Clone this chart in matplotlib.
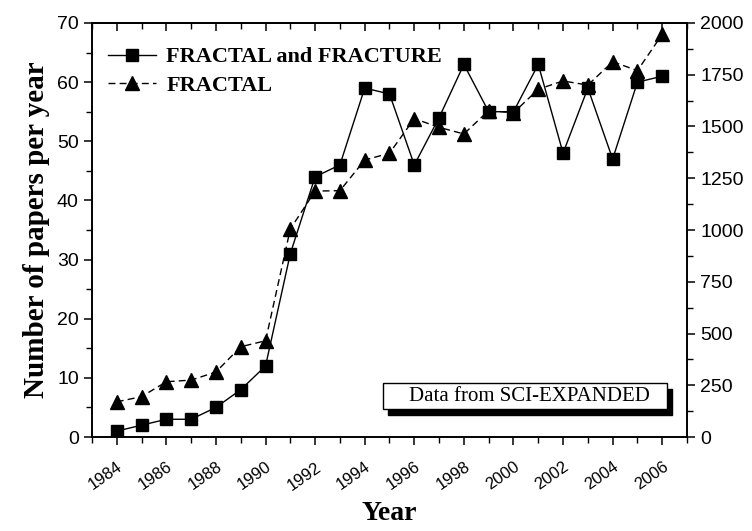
import matplotlib
matplotlib.use("Agg")
import matplotlib.pyplot as plt
from matplotlib.patches import Rectangle
from matplotlib.ticker import MultipleLocator

years = list(range(1984, 2007))

# papers per year, "FRACTAL and FRACTURE" (left axis)
fractal_fracture = [1, 2, 3, 3, 5, 8, 12, 31, 44, 46, 59, 58, 46, 54, 63,
                    55, 55, 63, 48, 59, 47, 60, 61]

# papers per year, "FRACTAL" (right axis)
fractal = [170, 195, 267, 275, 314, 436, 465, 1005, 1188, 1190, 1338, 1371,
           1538, 1496, 1464, 1577, 1566, 1680, 1720, 1700, 1813, 1770, 1945]

serif = ["Liberation Serif", "DejaVu Serif"]
sans = ["Liberation Sans", "DejaVu Sans"]

fig = plt.figure(figsize=(7.52, 5.31), dpi=100)
fig.set_facecolor("white")
ax = fig.add_axes([0.1223, 0.177, 0.7913, 0.7797])
ax2 = ax.twinx()

l1, = ax.plot(years, fractal_fracture, color="black", lw=1.0, marker="s",
              markersize=8, label="FRACTAL and FRACTURE")
l2, = ax2.plot(years, fractal, color="black", lw=1.0, ls=(0, (5, 3)),
               marker="^", markersize=9.5, label="FRACTAL")

ax.set_xlim(1983, 2007)
ax.set_ylim(0, 70)
ax2.set_ylim(0, 2000)

ax.xaxis.set_major_locator(MultipleLocator(2))
ax.xaxis.set_minor_locator(MultipleLocator(1))
ax.yaxis.set_major_locator(MultipleLocator(10))
ax.yaxis.set_minor_locator(MultipleLocator(5))
ax2.yaxis.set_major_locator(MultipleLocator(250))
ax2.yaxis.set_minor_locator(MultipleLocator(125))

ax.tick_params(axis="x", which="both", direction="out", pad=10)
ax.tick_params(axis="x", which="major", length=6, width=1.1)
ax.tick_params(axis="x", which="minor", length=4, width=1.0)
ax.tick_params(axis="y", which="major", length=6, width=1.1)
ax.tick_params(axis="y", which="minor", length=4, width=1.0)
ax2.tick_params(axis="y", which="major", length=6, width=1.1)
ax2.tick_params(axis="y", which="minor", length=4, width=1.0)

# top edge: ticks pointing into the plot, no labels
top = ax.secondary_xaxis("top")
top.xaxis.set_major_locator(MultipleLocator(2))
top.xaxis.set_minor_locator(MultipleLocator(1))
top.tick_params(which="both", direction="in", labeltop=False)
top.tick_params(which="major", length=6, width=1.1)
top.tick_params(which="minor", length=4, width=1.0)
top.spines["top"].set_linewidth(1.2)

for lab in ax.get_xticklabels():
    lab.set_family(sans)
    lab.set_fontsize(12)
    lab.set_rotation(35)
    lab.set_ha("right")
    lab.set_rotation_mode("anchor")
for lab in ax.get_yticklabels() + ax2.get_yticklabels():
    lab.set_family(sans)
    lab.set_fontsize(14)

for a in (ax, ax2):
    for sp in a.spines.values():
        sp.set_linewidth(1.2)

ax.set_xlabel("Year", family=serif, fontsize=20, fontweight="bold", labelpad=6)
ax.set_ylabel("Number of papers per year", family=serif, fontsize=21,
              fontweight="bold", labelpad=5)

ax.legend(handles=[l1, l2], loc="upper left", frameon=False,
          bbox_to_anchor=(0.0, 0.98),
          prop={"family": serif, "size": 16, "weight": "bold"},
          handlelength=2.2, handletextpad=0.45, labelspacing=0.35,
          borderaxespad=0.3)

# source note: white box with a solid drop shadow
bx, by, bw, bh = 0.489, 0.0676, 0.477, 0.0628
ax.add_patch(Rectangle((bx + 0.0085, by - 0.014), bw, bh,
                       transform=ax.transAxes, fc="black", ec="black",
                       lw=1.0, zorder=4))
ax.add_patch(Rectangle((bx, by), bw, bh, transform=ax.transAxes,
                       fc="white", ec="black", lw=1.0, zorder=5))
ax.text(bx + bw * 0.515, by + bh / 2, "Data from SCI-EXPANDED",
        transform=ax.transAxes, ha="center", va="center", family=serif,
        fontsize=15, zorder=6)

fig.savefig("out.png", dpi=100, facecolor="white")
